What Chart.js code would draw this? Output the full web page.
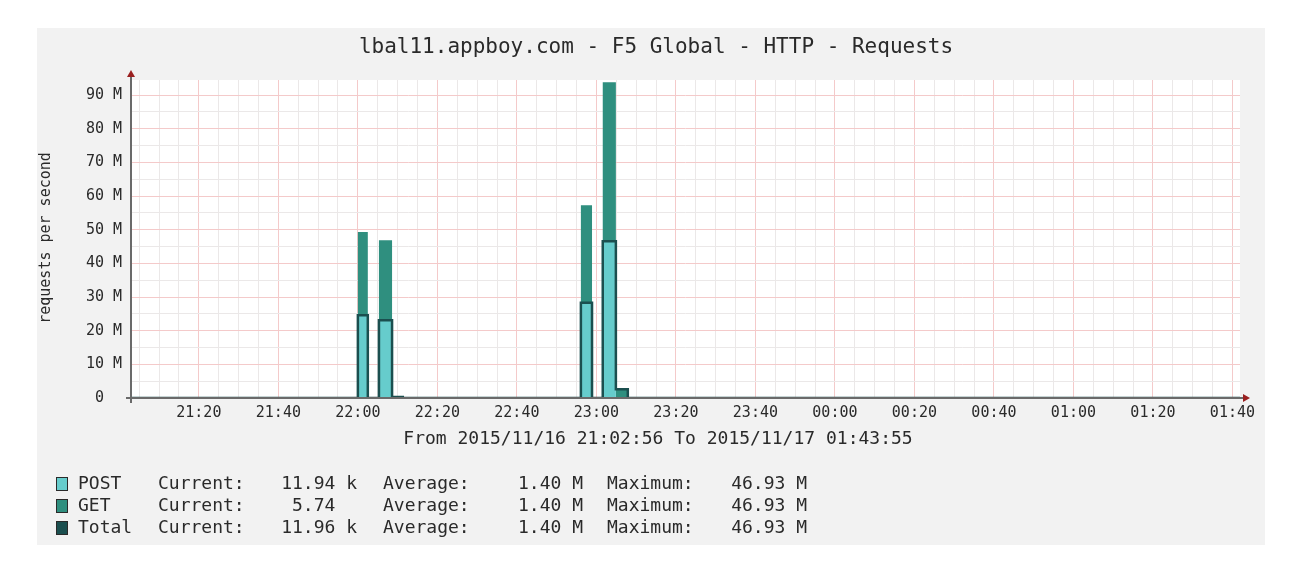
<!DOCTYPE html>
<html>
<head>
<meta charset="utf-8">
<script src="https://cdn.jsdelivr.net/npm/chart.js@4/dist/chart.umd.min.js"></script>
<style>
  html, body { margin: 0; padding: 0; background: #fff; }
  #wrap { width: 1300px; height: 567px; }
</style>
</head>
<body>
<div id="wrap"><canvas id="chart" width="1300" height="567"></canvas></div>
<script>
// time in minutes after 21:00, values in millions of requests per second
var sampleMinutes = [2.93, 60, 62.5, 65.3, 68.6, 71.3, 116.1, 118.9, 121.6, 124.9, 127.9, 281.9];
var postValues    = [0, 24.6, 0, 23.1, 0.3, 0, 28.3, 0, 46.6, 0, 0, 0];
var getValues     = [0, 24.7, 0, 23.8, 0, 0, 29.0, 0, 47.2, 2.6, 0, 0];
var totalValues   = [0, 24.6, 0, 23.1, 0.3, 0, 28.3, 0, 46.6, 2.6, 0, 0];

var xTickMinutes = [20, 40, 60, 80, 100, 120, 140, 160, 180, 200, 220, 240, 260, 280];
var xTickLabels = ["21:20", "21:40", "22:00", "22:20", "22:40", "23:00", "23:20", "23:40",
                   "00:00", "00:20", "00:40", "01:00", "01:20", "01:40"];
var yTickValues = [0, 10, 20, 30, 40, 50, 60, 70, 80, 90];
var yTickLabels = ["0  ", "10 M", "20 M", "30 M", "40 M", "50 M", "60 M", "70 M", "80 M", "90 M"];

var legendNames    = ["POST", "GET", "Total"];
var legendCurrent  = ["11.94 k", "5.74  ", "11.96 k"];
var legendAverage  = ["1.40 M", "1.40 M", "1.40 M"];
var legendMaximum  = ["46.93 M", "46.93 M", "46.93 M"];

var colPost = "#66cccc", colGet = "#2f8f7f", colTotal = "#1b4f4f";
var mono = "'DejaVu Sans Mono', monospace";
var majorGrid = "#f4caca", minorGrid = "#ebe8e8";

function points(vals) {
    return sampleMinutes.map(function (t, i) { return { x: t, y: vals[i] }; });
}

var xGrid = [], yGrid = [];
for (var m = 5; m <= 280; m += 5) xGrid.push(m);
for (var v = 0; v <= 90; v += 5) yGrid.push(v);

var rrdDecor = {
    id: "rrdDecor",
    beforeDraw: function (chart) {
        var c = chart.ctx, a = chart.chartArea;
        c.save();
        c.fillStyle = "#ffffff";
        c.fillRect(0, 0, chart.width, chart.height);
        c.fillStyle = "#f2f2f2";
        c.fillRect(37, 28, 1228, 517);
        c.fillStyle = "#ffffff";
        c.fillRect(a.left, a.top, a.right - a.left, a.bottom - a.top);
        c.restore();
    },
    afterDatasetsDraw: function (chart) {
        var c = chart.ctx, a = chart.chartArea;
        c.save();
        // axes
        c.strokeStyle = "#6a6a6a";
        c.lineWidth = 2;
        c.beginPath();
        c.moveTo(126, a.bottom); c.lineTo(a.right + 5, a.bottom);
        c.moveTo(a.left, a.bottom + 5); c.lineTo(a.left, a.top - 5);
        c.stroke();
        c.fillStyle = "#9a2020";
        c.beginPath();
        c.moveTo(a.right + 3, a.bottom - 4); c.lineTo(a.right + 10, a.bottom); c.lineTo(a.right + 3, a.bottom + 4);
        c.fill();
        c.beginPath();
        c.moveTo(a.left - 4, a.top - 3); c.lineTo(a.left, a.top - 10); c.lineTo(a.left + 4, a.top - 3);
        c.fill();

        c.fillStyle = "#2a2a2a";
        c.textBaseline = "middle";
        c.textAlign = "center";
        c.font = "21px " + mono;
        c.fillText("lbal11.appboy.com - F5 Global - HTTP - Requests", 656, 48);
        c.font = "18px " + mono;
        c.fillText("From 2015/11/16 21:02:56 To 2015/11/17 01:43:55", 658, 439);

        c.save();
        c.translate(46, 238);
        c.rotate(-Math.PI / 2);
        c.font = "15px " + mono;
        c.fillText("requests per second", 0, 0);
        c.restore();

        // legend
        var sw = [colPost, colGet, colTotal];
        c.font = "18px " + mono;
        for (var i = 0; i < 3; i++) {
            var y = 484 + i * 22;
            c.fillStyle = sw[i];
            c.fillRect(56, y - 7, 12, 14);
            c.strokeStyle = "#2a2a2a";
            c.lineWidth = 1;
            c.strokeRect(56.5, y - 6.5, 11, 13);
            c.fillStyle = "#2a2a2a";
            c.textAlign = "left";
            c.fillText(legendNames[i], 78, y);
            c.fillText("Current:", 158, y);
            c.fillText("Average:", 383, y);
            c.fillText("Maximum:", 607, y);
            c.textAlign = "right";
            c.fillText(legendCurrent[i], 357, y);
            c.fillText(legendAverage[i], 583, y);
            c.fillText(legendMaximum[i], 807, y);
        }
        c.restore();
    }
};

var ctx = document.getElementById("chart").getContext("2d");

new Chart(ctx, {
    type: "line",
    data: {
        datasets: [{
            label: "POST",
            data: points(postValues),
            stepped: "before",
            fill: "origin",
            backgroundColor: colPost,
            borderWidth: 0,
            pointRadius: 0,
            stack: "req",
            order: 1
        }, {
            label: "GET",
            data: points(getValues),
            stepped: "before",
            fill: "-1",
            backgroundColor: colGet,
            borderWidth: 0,
            pointRadius: 0,
            stack: "req",
            order: 2
        }, {
            label: "Total",
            data: points(totalValues),
            stepped: "before",
            fill: false,
            borderColor: colTotal,
            borderWidth: 2.5,
            pointRadius: 0,
            stack: "total",
            order: 0
        }]
    },
    options: {
        responsive: false,
        animation: false,
        layout: {
            padding: { left: 36, right: 60, top: 80, bottom: 129 }
        },
        plugins: {
            legend: { display: false },
            tooltip: { enabled: false }
        },
        scales: {
            x: {
                type: "linear",
                min: 2.93,
                max: 281.9,
                afterBuildTicks: function (s) {
                    s.ticks = xGrid.map(function (v) { return { value: v }; });
                },
                afterFit: function (s) { s.height = 40; },
                grid: {
                    drawTicks: false,
                    lineWidth: 1,
                    color: function (c) {
                        return c.tick && c.tick.value % 20 === 0 ? majorGrid : minorGrid;
                    }
                },
                border: { display: false },
                ticks: {
                    autoSkip: false,
                    maxRotation: 0,
                    padding: 6,
                    color: "#2a2a2a",
                    font: { family: mono, size: 15 },
                    callback: function (v) {
                        var i = xTickMinutes.indexOf(v);
                        return i >= 0 ? xTickLabels[i] : "";
                    }
                }
            },
            y: {
                stacked: true,
                min: 0,
                max: 94.5,
                afterBuildTicks: function (s) {
                    s.ticks = yGrid.map(function (v) { return { value: v }; });
                },
                afterFit: function (s) { s.width = 95; },
                grid: {
                    drawTicks: false,
                    lineWidth: 1,
                    color: function (c) {
                        return c.tick && c.tick.value % 10 === 0 ? majorGrid : minorGrid;
                    }
                },
                border: { display: false },
                ticks: {
                    autoSkip: false,
                    padding: 9,
                    color: "#2a2a2a",
                    font: { family: mono, size: 15 },
                    callback: function (v) {
                        var i = yTickValues.indexOf(v);
                        return i >= 0 ? yTickLabels[i] : "";
                    }
                }
            }
        }
    },
    plugins: [rrdDecor]
});
</script>
</body>
</html>
